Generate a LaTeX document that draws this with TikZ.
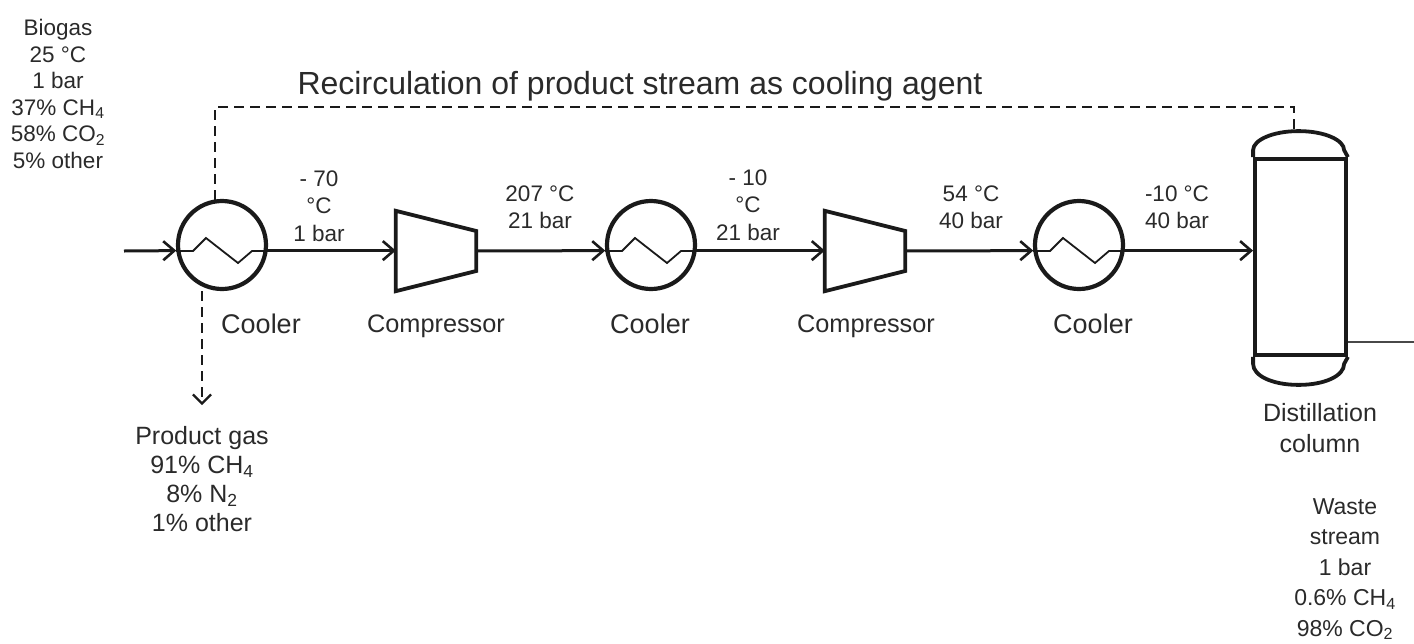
\documentclass[tikz,border=0pt]{standalone}
\usepackage{fontspec}
\setmainfont{Liberation Sans}
\usetikzlibrary{shapes.geometric,arrows.meta,calc}
\definecolor{ink}{HTML}{1A1A1A}
\definecolor{txt}{HTML}{2A2A2A}
\tikzset{
  x=1pt,y=-1pt,
  cooler/.style={circle,draw=ink,line width=4.2pt,minimum size=88pt,inner sep=0pt},
  compressorbox/.style={rectangle,minimum width=80pt,minimum height=80pt,inner sep=0pt},
  compressorline/.style={draw=ink,line width=3.8pt,line join=miter},
  columnbox/.style={rectangle,draw=ink,line width=3.8pt,minimum width=91pt,minimum height=196pt,inner sep=0pt},
  capline/.style={draw=ink,line width=3.8pt},
  stream/.style={draw=ink,line width=3pt,-{Straight Barb[length=11pt,width=19pt,line width=2.6pt]}},
  plainline/.style={draw=ink!80,line width=2.2pt},
  coil/.style={draw=ink,line width=1.8pt,line join=miter},
  recycle/.style={draw=ink,line width=2.2pt,dash pattern=on 10pt off 6pt},
  lab/.style={text=txt,align=center,inner sep=0pt,font=\fontsize{22.5}{#1}\selectfont},
  lab/.default=27.5,
  biglab/.style={text=txt,align=center,inner sep=0pt,font=\fontsize{25}{#1}\selectfont},
  unitlab/.style={text=txt,inner sep=0pt,font=\fontsize{25.3}{30}\selectfont},
  coollab/.style={text=txt,inner sep=0pt,font=\fontsize{27}{32}\selectfont},
}
\newcommand{\coolzig}[1]{%
  \draw[coil] ($(#1.center)+(-46,6)$) -- ++(17,0) -- ++(13,-13) -- ++(32,25) -- ++(14,-12) -- ++(16,0);}
\newcommand{\compshape}[1]{%
  \draw[compressorline] (#1.north west) -- ($(#1.east)+(0,-20)$) -- ($(#1.east)+(0,20)$) -- (#1.south west) -- cycle;}
\begin{document}
\begin{tikzpicture}
\useasboundingbox (0,0) rectangle (1414,643);
\node[cooler] (c1) at (222,245) {};
\node[cooler] (c2) at (651,245) {};
\node[cooler] (c3) at (1079,245) {};
\coolzig{c1}\coolzig{c2}\coolzig{c3}
\node[compressorbox] (k1) at (436,251) {};
\node[compressorbox] (k2) at (865,251) {};
\compshape{k1}\compshape{k2}
\node[columnbox] (col) at (1300.5,257) {};
\draw[capline] (col.north west) -- ++(0,-7) .. controls +(0,-10) and +(-26,0) .. ++(45.5,-19) .. controls +(26,0) and +(0,-10) .. ++(45.5,19) -- (col.north east);
\draw[capline] (col.south west) -- ++(0,7) .. controls +(0,12) and +(-26,0) .. ++(45.5,21) .. controls +(26,0) and +(0,12) .. ++(45.5,-21) -- (col.south east);
\coordinate (in) at (124,251);
\coordinate (out) at (1414,342);
\coordinate (pg) at (202,405);
\coordinate (rA) at (215,107);
\coordinate (rB) at (1294,107);
\draw[stream] (in) -- (c1.187.5);
\draw[stream] (c1.-7.5) -- (k1.west |- c1.-7.5);
\draw[stream] (k1.east) -- (c2.187.5);
\draw[stream] (c2.-7.5) -- (k2.west |- c2.-7.5);
\draw[stream] (k2.east) -- (c3.187.5);
\draw[stream] (c3.-7.5) -- (col.west |- c3.-7.5);
\draw[plainline] (col.east |- out) -- (out);
\draw[recycle] (rA |- c1.north) ++(0,1) -- (rA) -- (rB) -- (rB |- 0,133);
\draw[recycle,-{Straight Barb[length=9pt,width=18pt,line width=2.2pt]}] (pg |- 0,291) -- (pg);
\node[lab=26.5] (tbio) at (58,94) {Biogas\\25 °C\\1 bar\\37\% CH\textsubscript{4}\\58\% CO\textsubscript{2}\\5\% other};
\node[text=txt,inner sep=0pt,font=\fontsize{32}{38}\selectfont] (ttitle) at (640,86) {Recirculation of product stream as cooling agent};
\node[lab] (t1) at (319,206) {- 70\\°C\\1 bar};
\node[lab] (t2) at (540,207) {207 °C\\21 bar};
\node[lab] (t3) at (748,205) {- 10\\°C\\21 bar};
\node[lab] (t4) at (971,207) {54 °C\\40 bar};
\node[lab] (t5) at (1177,207) {-10 °C\\40 bar};
\node[coollab] (n1) at (261,324) {Cooler};
\node[unitlab] (n2) at (436,326) {Compressor};
\node[coollab] (n3) at (650,324) {Cooler};
\node[unitlab] (n4) at (866,326) {Compressor};
\node[coollab] (n5) at (1093,324) {Cooler};
\node[biglab=31] (n6) at (1320,428) {Distillation\\column};
\node[biglab=29] (tpg) at (202,479) {Product gas\\91\% CH\textsubscript{4}\\8\% N\textsubscript{2}\\1\% other};
\node[lab=30.5,font=\fontsize{23}{30.5}\selectfont] (tw) at (1345,569) {Waste\\stream\\1 bar\\0.6\% CH\textsubscript{4}\\98\% CO\textsubscript{2}};
\end{tikzpicture}
\end{document}
